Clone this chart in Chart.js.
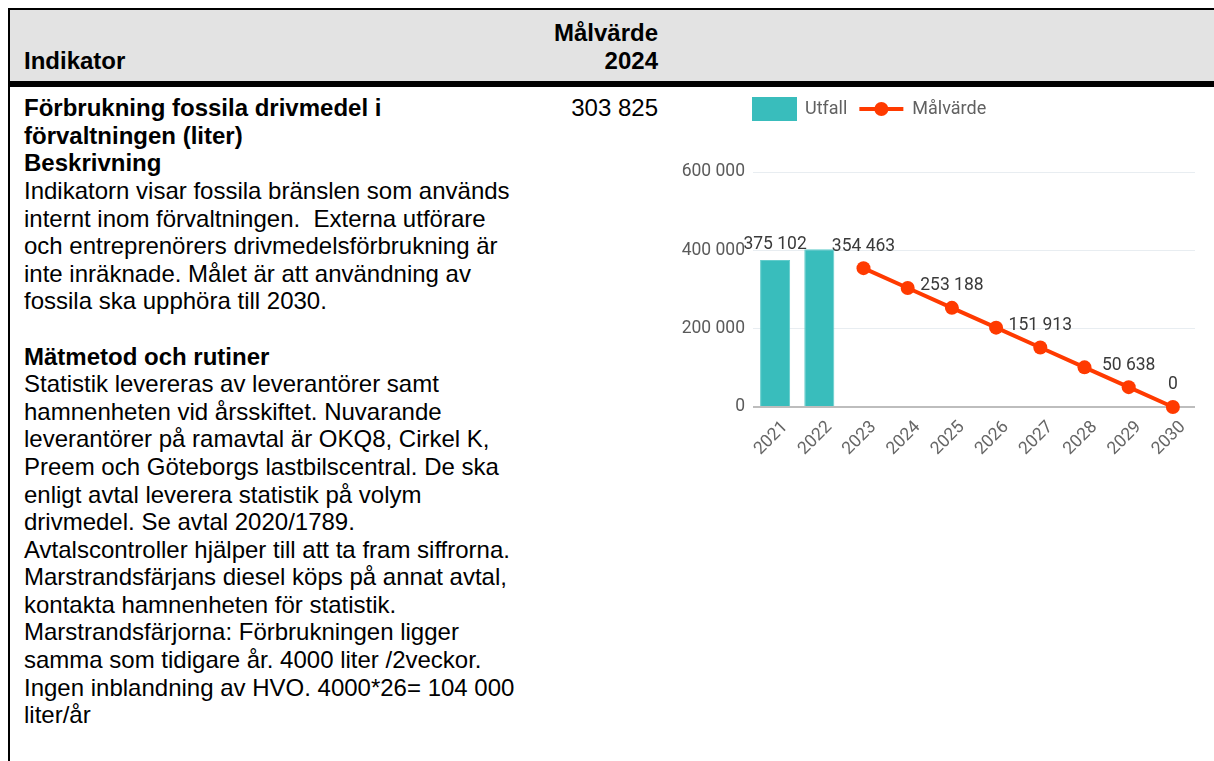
<!DOCTYPE html>
<html lang="sv">
<head>
<meta charset="utf-8">
<title>Förbrukning fossila drivmedel</title>
<script src="https://cdn.jsdelivr.net/npm/chart.js@4.4.1/dist/chart.umd.min.js"></script>
<style>
  html, body { margin: 0; padding: 0; background: #fff; }
  body { width: 1214px; height: 761px; overflow: hidden; position: relative;
         font-family: 'Liberation Sans', Arial, sans-serif; font-size: 24px; color: #000; }
  table.ind { position: absolute; left: 8px; top: 8px; width: 1206px;
              border-collapse: separate; border-spacing: 0; table-layout: fixed;
              border-top: 2px solid #000; border-left: 2px solid #000; }
  table.ind th, table.ind td { box-sizing: border-box; line-height: 27.6px; padding: 0; }
  table.ind th { background: #e3e3e3; border-bottom: 6px solid #000; vertical-align: bottom;
                 padding-top: 9px; padding-bottom: 7px; font-weight: bold; }
  table.ind td { vertical-align: top; padding-top: 7px; height: 700px; }
  .c1 { width: 520px; padding-left: 14px !important; text-align: left; }
  .c2 { width: 135px; padding-right: 7px !important; text-align: right; }
  .c3 { width: 549px; }
  td.c3 { padding-top: 3px !important; }
  #wrap { position: relative; width: 549px; height: 380px; }
</style>
</head>
<body>
<table class="ind">
  <thead>
    <tr><th class="c1">Indikator</th><th class="c2">Målvärde<br>2024</th><th class="c3"></th></tr>
  </thead>
  <tbody>
    <tr>
      <td class="c1"><b>Förbrukning fossila drivmedel i<br>förvaltningen (liter)<br>Beskrivning</b><br>Indikatorn visar fossila bränslen som används<br>internt inom förvaltningen.&nbsp; Externa utförare<br>och entreprenörers drivmedelsförbrukning är<br>inte inräknade. Målet är att användning av<br>fossila ska upphöra till 2030.<br><br><b>Mätmetod och rutiner</b><br>Statistik levereras av leverantörer samt<br>hamnenheten vid årsskiftet. Nuvarande<br>leverantörer på ramavtal är OKQ8, Cirkel K,<br>Preem och Göteborgs lastbilscentral. De ska<br>enligt avtal leverera statistik på volym<br>drivmedel. Se avtal 2020/1789.<br>Avtalscontroller hjälper till att ta fram siffrorna.<br>Marstrandsfärjans diesel köps på annat avtal,<br>kontakta hamnenheten för statistik.<br>Marstrandsfärjorna: Förbrukningen ligger<br>samma som tidigare år. 4000 liter /2veckor.<br>Ingen inblandning av HVO. 4000*26= 104 000<br>liter/år</td>
      <td class="c2">303 825</td>
      <td class="c3"><div id="wrap"><canvas id="chart"></canvas></div></td>
    </tr>
  </tbody>
</table>

<script>
const years = ['2021', '2022', '2023', '2024', '2025', '2026', '2027', '2028', '2029', '2030']
const utfall = [375102, 403000, null, null, null, null, null, null, null, null]
const malvarde = [null, null, 354463, 303825, 253188, 202550, 151913, 101275, 50638, 0]
const yTicks = [0, 200000, 400000, 600000]
// only these annotations are visible in the original
const utfallLabelYears = ['2021']
const malvardeLabelYears = ['2023', '2025', '2027', '2029', '2030']

const TEAL = '#39bdbc'
const RED = '#ff3a00'
const fmt = v => String(v).replace(/\B(?=(\d{3})+(?!\d))/g, ' ')

const legendPlugin = {
    id: 'topLegend',
    afterDraw(chart) {
        const ctx = chart.ctx
        let x = chart.chartArea.left - 1
        const y = 19
        ctx.save()
        ctx.font = '18px Roboto'
        ctx.textBaseline = 'middle'
        ctx.fillStyle = TEAL
        ctx.fillRect(x, 7, 45, 24)
        x += 53
        ctx.fillStyle = '#616161'
        ctx.fillText('Utfall', x, y)
        x += ctx.measureText('Utfall').width + 12
        ctx.strokeStyle = RED
        ctx.lineWidth = 4
        ctx.beginPath()
        ctx.moveTo(x, y)
        ctx.lineTo(x + 44, y)
        ctx.stroke()
        ctx.fillStyle = RED
        ctx.beginPath()
        ctx.arc(x + 22, y, 7, 0, Math.PI * 2)
        ctx.fill()
        x += 53
        ctx.fillStyle = '#616161'
        ctx.fillText('Målvärde', x, y)
        ctx.restore()
    }
}

const valueLabels = {
    id: 'valueLabels',
    afterDatasetsDraw(chart) {
        const ctx = chart.ctx
        ctx.save()
        ctx.font = '17.5px Roboto'
        ctx.fillStyle = '#3a3a3a'
        ctx.textAlign = 'center'
        ctx.textBaseline = 'middle'
        chart.data.datasets.forEach((ds, di) => {
            const meta = chart.getDatasetMeta(di)
            const show = ds.type === 'line' ? malvardeLabelYears : utfallLabelYears
            const off = ds.type === 'line' ? 22 : 15
            ds.data.forEach((v, i) => {
                if (v === null || !show.includes(years[i])) return
                const el = meta.data[i]
                ctx.fillText(fmt(v), el.x, el.y - off)
            })
        })
        ctx.restore()
    }
}

const tickFont = { family: 'Roboto', size: 17.5 }

new Chart(document.getElementById('chart'), {
    type: 'bar',
    data: {
        labels: years,
        datasets: [{
            type: 'line',
            label: 'Målvärde',
            data: malvarde,
            borderColor: RED,
            backgroundColor: RED,
            borderWidth: 4,
            pointRadius: 7,
            pointHoverRadius: 7,
            pointBorderWidth: 0,
            pointBackgroundColor: RED,
            clip: false,
            order: 0
        }, {
            type: 'bar',
            label: 'Utfall',
            data: utfall,
            backgroundColor: TEAL,
            borderColor: '#62cccb',
            borderWidth: 1,
            barPercentage: 0.68,
            categoryPercentage: 1,
            order: 1
        }]
    },
    options: {
        responsive: true,
        maintainAspectRatio: false,
        animation: false,
        layout: { padding: { top: 82, right: 19, left: 0, bottom: 0 } },
        plugins: {
            legend: { display: false },
            tooltip: { enabled: false }
        },
        scales: {
            x: {
                grid: { display: false },
                border: { display: false },
                ticks: { color: '#666', font: tickFont, minRotation: 45, maxRotation: 45, padding: 2, labelOffset: 10 },
                afterFit(scale) { scale.height = 63 }
            },
            y: {
                min: 0,
                max: 600000,
                afterBuildTicks(scale) { scale.ticks = yTicks.map(v => ({ value: v })) },
                ticks: { color: '#5b5b5b', font: tickFont, padding: 8, callback: v => fmt(v) },
                grid: {
                    drawTicks: false,
                    color: c => c.tick && c.tick.value === 0 ? '#bdbdbd' : '#e8edf1',
                    lineWidth: c => c.tick && c.tick.value === 0 ? 2 : 1
                },
                border: { display: false },
                afterFit(scale) { scale.width = 88 }
            }
        }
    },
    plugins: [legendPlugin, valueLabels]
})
</script>
</body>
</html>
